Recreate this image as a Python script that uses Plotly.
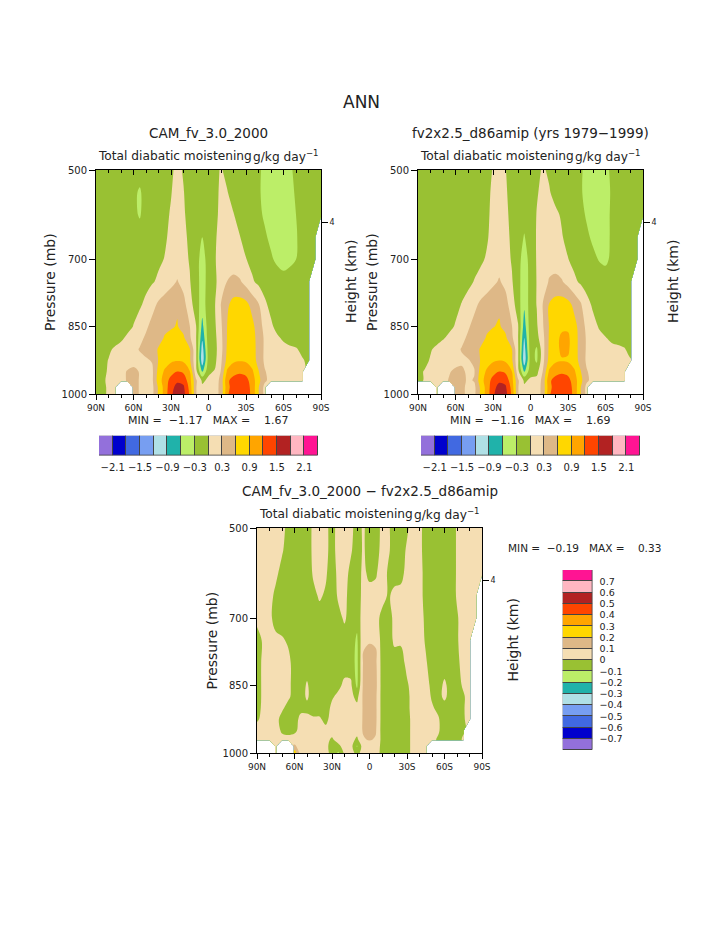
import math
import plotly.graph_objects as go

nan = float("nan")

# ---------------- data ----------------
lat = [90, 85, 80, 75, 70, 65, 60, 55, 50, 45, 40, 35, 30, 25, 20, 15, 10, 5, 0,
       -5, -10, -15, -20, -25, -30, -35, -40, -45, -50, -55, -60, -65, -70, -75, -80, -85, -90]
plev = [500, 550, 600, 650, 700, 750, 800, 850, 875, 900, 925, 950, 970, 985, 1000]

# CAM_fv_3.0_2000 : rows = pressure levels (500 -> 1000), columns = latitude (90N -> 90S)
cam_rows = [
    [-.15,-.15,-.15,-.15,-.15,-.15, -.2,-.2,-.15,-.12,-.1,-.08, -.04,.06,-.02,-.1,-.12,-.15, -.12, -.06,.02,-.06,-.12,-.15,-.18, -.22,-.28,-.33,-.38,-.4,-.38, -.33,-.26,-.2,-.15,-.12,-.1],
    [-.15,-.15,-.15,-.15,-.15,-.18, -.25,-.33,-.2,-.12,-.1,-.06, -.01,.08,.01,-.1,-.14,-.18, -.14, -.06,.04,.01,-.08,-.14,-.18, -.22,-.28,-.34,-.4,-.42,-.4, -.35,-.28,-.2,-.15,-.12,-.1],
    [-.15,-.15,-.15,-.15,-.15,-.18, -.25,-.32,-.2,-.12,-.1,-.05, .02,.1,.03,-.08,-.15,-.2, -.15, -.05,.05,.04,.01,-.08,-.16, -.22,-.27,-.32,-.38,-.42,-.42, -.37,-.3,-.22,-.16,-.12,-.1],
    [-.15,-.15,-.15,-.15,-.15,-.15, -.18,-.2,-.16,-.12,-.08,-.03, .05,.12,.06,-.05,-.18,-.3, -.18, -.03,.08,.1,.06,.01,-.1, -.18,-.24,-.28,-.33,-.4,-.42, -.38,-.32,-.22,-.16,-.12,nan],
    [-.15,-.15,-.15,-.15,-.15,-.15, -.15,-.15,-.12,-.08,-.04,.01, .08,.16,.08,-.02,-.2,-.4, -.2, -.02,.1,.16,.14,.08,.01, -.08,-.16,-.22,-.28,-.33,-.36, -.34,-.3,-.2,-.15,-.12,nan],
    [-.15,-.15,-.15,-.15,-.15,-.15, -.12,-.1,-.06,-.02,.04,.12, .22,.32,.2,.02,-.18,-.42, -.2, -.04,.1,.31,.38,.34,.2, .04,-.06,-.12,-.18,-.22,-.24, -.22,-.2,-.16,-.12,nan,nan],
    [-.15,-.15,-.15,-.15,-.15,-.12, -.08,-.03,.05,.2,.35,.45, .52,.56,.4,.12,-.15,-.45, -.15, -.02,.31,.55,.7,.72,.68, .5,.32,.05,-.08,-.12,-.15, -.15,-.15,-.15,-.12,nan,nan],
    [-.15,-.15,-.15,-.15,-.12,-.08, .01,.1,.25,.4,.5,.55, .57,.62,.5,.31,.02,-.7, -.12, -.05,.25,.61,.75,.8,.78, .68,.45,.2,.05,-.08,-.12, -.15,-.15,-.15,-.12,nan,nan],
    [-.15,-.15,-.15,-.12,-.05,.05, .12,.22,.35,.45,.52,.62, .7,.75,.65,.35,.02,-.85, -.12, -.08,.22,.62,.78,.82,.8, .7,.5,.25,.12,.04,-.04, -.1,-.12,-.12,-.1,nan,nan],
    [-.15,-.12,-.05,.04,.1,.16, .22,.32,.4,.5,.62,.7, .8,.85,.8,.62,.05,-1.05, -.15, -.1,.2,.65,.82,.86,.85, .72,.5,.25,.18,.12,.08, .05,.02,-.05,-.1,nan,nan],
    [-.12,-.08,.01,.06,.1,.14, .18,.22,.26,.32,.62,.75, .85,.88,.85,.65,.05,-1.1, -.15, -.08,.25,.7,.85,.88,.86, .75,.5,.25,.18,.14,.1, .08,.05,.02,-.04,nan,nan],
    [-.1,-.05,.02,.1,.2,.32, .38,.28,.2,.25,.7,.95, 1.1,1.2,1.15,.92,.1,-.65, -.05, .02,.32,.95,1.1,1.15,1.1, .95,.62,.32,.2,.15,.1, .08,.05,.02,nan,nan,nan],
    [-.1,-.05,.05,.12,.22,.32, .4,.28,.2,.25,.75,1.05, 1.3,1.45,1.4,1.02,.35,-.05, .05, .12,.4,1.15,1.3,1.35,1.3, 1.05,.7,.35,.2,.15,.1, .08,.05,.02,nan,nan,nan],
    [-.1,-.05,.03,.1,nan,nan, .4,.28,.2,.22,.65,1.02, 1.4,1.6,1.55,1.1,.32,.05, .1, .15,.4,1.1,1.35,1.4,1.35, 1.1,.62,.2,nan,nan,nan, nan,nan,nan,nan,nan,nan],
    [-.1,-.05,.03,.1,nan,nan, .4,.28,.2,.22,.65,1.02, 1.45,1.65,1.6,1.15,.32,.05, .1, .15,.4,1.15,1.4,1.45,1.4, 1.1,.62,.2,nan,nan,nan, nan,nan,nan,nan,nan,nan],
]

# fv2x2.5_d86amip
obs_rows = [
    [-.15,-.15,-.15,-.15,-.15,-.15, -.15,-.15,-.15,-.12,-.1,-.06, .01,.1,.01,-.1,-.12,-.15, -.12, -.06,.03,-.04,-.12,-.15,-.18, -.22,-.28,-.34,-.38,-.38,-.34, -.27,-.2,-.16,-.14,-.12,-.1],
    [-.15,-.15,-.15,-.15,-.15,-.15, -.15,-.15,-.15,-.12,-.08,-.04, .03,.12,.03,-.08,-.14,-.18, -.12, -.02,.06,.02,-.08,-.14,-.18, -.22,-.28,-.35,-.4,-.4,-.36, -.28,-.2,-.16,-.14,-.12,-.1],
    [-.15,-.15,-.15,-.15,-.15,-.15, -.15,-.15,-.15,-.12,-.08,-.03, .04,.13,.05,-.06,-.15,-.2, -.14, .01,.08,.1,.05,-.03,-.12, -.2,-.25,-.32,-.36,-.38,-.34, -.28,-.2,-.16,-.14,-.12,-.1],
    [-.15,-.15,-.15,-.15,-.15,-.15, -.15,-.15,-.13,-.1,-.06,-.02, .06,.14,.07,-.04,-.16,-.32, -.15, .02,.1,.14,.1,.02,-.08, -.16,-.22,-.27,-.33,-.37,-.34, -.28,-.2,-.16,-.14,-.12,nan],
    [-.15,-.15,-.15,-.15,-.15,-.15, -.14,-.12,-.1,-.07,-.03,.02, .1,.18,.1,-.02,-.18,-.45, -.18, .02,.12,.18,.16,.1,.01, -.08,-.15,-.2,-.26,-.31,-.33, -.27,-.2,-.16,-.14,-.12,nan],
    [-.15,-.15,-.15,-.15,-.15,-.14, -.12,-.09,-.05,.01,.06,.14, .24,.33,.22,.03,-.18,-.5, -.18, .01,.15,.33,.38,.33,.2, .06,-.04,-.1,-.15,-.2,-.22, -.18,-.15,-.14,-.12,nan,nan],
    [-.15,-.15,-.15,-.14,-.12,-.1, -.06,.01,.08,.22,.36,.45, .52,.55,.42,.14,-.15,-.55, -.15, .01,.32,.62,.72,.75,.7, .52,.34,.08,-.04,-.1,-.12, -.12,-.12,-.12,-.1,nan,nan],
    [-.15,-.15,-.14,-.12,-.1,-.05, .02,.12,.26,.4,.5,.56, .59,.63,.52,.32,.03,-.75, -.12, -.04,.28,.62,.78,.85,.85, .7,.48,.22,.08,-.02,-.08, -.1,-.1,-.1,-.08,nan,nan],
    [-.15,-.14,-.12,-.08,-.02,.05, .12,.22,.35,.45,.52,.62, .7,.75,.66,.36,.02,-.9, -.12, -.1,.22,.64,.82,.95,.96, .72,.5,.26,.14,.06,.01, -.04,-.05,-.06,-.06,nan,nan],
    [-.12,-.08,-.02,.05,.1,.16, .22,.32,.4,.5,.62,.7, .8,.85,.8,.62,.05,-1.05, -.12, -.35,.2,.66,.82,.95,.95, .72,.5,.26,.18,.12,.08, .05,.03,.01,-.04,nan,nan],
    [-.1,-.06,.02,.08,.12,.15, .2,.25,.28,.35,.62,.76, .86,.9,.86,.66,.05,-1.1, -.15, -.35,.22,.7,.85,.88,.86, .75,.5,.25,.18,.14,.1, .08,.05,.03,.01,nan,nan],
    [-.05,.01,.05,.1,.2,.28, .35,.35,.25,.28,.7,.95, 1.1,1.2,1.15,.92,.1,-.65, -.1, -.1,.32,.95,1.1,1.15,1.1, .95,.62,.32,.2,.15,.1, .08,.05,.02,nan,nan,nan],
    [-.05,.01,.06,.12,.22,.32, .38,.4,.25,.32,.75,1.05, 1.3,1.45,1.4,1.02,.35,-.05, .05, .1,.4,1.15,1.3,1.35,1.3, 1.05,.7,.35,.2,.15,.1, .08,.05,.02,nan,nan,nan],
    [nan,nan,nan,.1,nan,nan, .4,.4,.2,.22,.65,1.02, 1.4,1.6,1.55,1.1,.32,.05, .1, .15,.4,1.1,1.35,1.4,1.35, 1.1,.62,.2,nan,nan,nan, nan,nan,nan,nan,nan,nan],
    [nan,nan,nan,.1,nan,nan, .4,.4,.2,.22,.65,1.02, 1.45,1.66,1.62,1.15,.32,.05, .1, .15,.4,1.15,1.4,1.45,1.4, 1.1,.62,.2,nan,nan,nan, nan,nan,nan,nan,nan,nan],
]

# difference CAM - fv2x2.5 : one list per latitude (90N -> 90S), values at plev (500 -> 1000)
diff_cols = [
    [.04,.04,.04,.03,.02,-.03,-.04,-.04,-.04,-.03,-.01,.03,.03,nan,nan],      # 90
    [.05,.05,.05,.04,.02,.01,.02,.02,.02,.02,.02,.04,.04,nan,nan],            # 85
    [.05,.05,.04,.03,.02,.03,.04,.04,.04,.03,.03,.04,.04,nan,nan],            # 80
    [.05,.04,.02,-.02,-.03,.02,.03,.03,.03,.02,.02,.03,.03,.03,.03],          # 75
    [.03,.01,-.03,-.04,-.04,.01,.03,.03,.02,.01,-.02,-.01,.02,nan,nan],       # 70
    [-.03,-.04,-.05,-.05,-.04,-.01,.02,.02,.01,-.02,-.03,-.02,.02,nan,nan],   # 65
    [-.05,-.05,-.05,-.05,-.05,-.04,-.03,-.03,-.02,-.03,-.03,-.02,.04,.12,.26],# 60
    [-.05,-.05,-.05,-.05,-.05,-.05,-.04,-.04,-.03,-.02,.02,.03,.04,.05,.05],  # 55
    [-.05,-.05,-.05,-.05,-.05,-.05,-.04,.01,.01,-.02,.02,.03,.04,.04,.04],    # 50
    [.02,.02,.01,-.02,-.04,-.05,-.05,-.04,-.03,-.03,.01,.03,.04,.04,.04],     # 45
    [.04,.04,.03,.01,-.03,-.05,-.05,-.04,-.04,-.03,.01,.03,.03,.03,.03],      # 40
    [.02,.02,.01,-.01,-.04,-.05,-.05,-.05,-.05,-.04,-.02,.02,.02,.02,.02],    # 35
    [-.03,-.03,-.04,-.04,-.05,-.05,-.05,-.04,-.01,.02,.03,.03,-.01,-.03,-.02],# 30
    [.03,.03,.02,.01,-.02,-.05,-.05,-.02,.02,.03,.04,.04,.03,-.02,-.12],      # 25
    [.04,.04,.03,.02,.01,-.03,-.04,.02,.04,.05,.04,.04,.04,.03,.02],          # 20
    [.02,.01,-.02,-.03,-.03,-.04,-.05,.02,.03,.04,.04,.04,.04,.04,.04],       # 15
    [-.03,-.04,-.04,-.05,-.06,-.12,-.13,-.12,-.03,.03,.04,.04,-.02,-.11,-.03],# 10
    [.01,.01,.02,.03,.05,.09,.11,.12,.12,.11,.11,.11,.09,.05,.04],            # 5
    [-.03,-.03,-.02,.03,.06,.095,.13,.14,.13,.13,.12,.12,.11,.05,.04],        # 0
    [-.04,-.04,-.01,.03,.04,.09,.12,.13,.12,.12,.12,.11,.09,.04,.03],         # -5
    [.02,.03,.04,.04,-.03,-.04,-.04,-.04,-.04,-.04,-.04,-.04,-.03,-.02,-.02], # -10
    [.01,.01,-.01,-.01,-.05,-.05,-.05,-.05,-.05,-.05,-.05,-.05,-.05,-.05,-.05],# -15
    [-.03,-.03,-.03,.02,.03,.02,-.05,-.05,-.05,-.05,-.05,-.05,-.05,-.05,-.05],# -20
    [-.03,-.03,-.02,.02,.03,.01,-.03,-.05,-.05,-.05,-.05,-.05,-.05,-.05,-.05],# -25
    [-.01,.01,.02,.03,.04,.04,.02,-.01,-.02,-.02,-.03,-.03,-.03,-.03,-.03],   # -30
    [.03,.03,.03,.04,.04,.04,.04,.03,.03,.03,.03,.03,.03,.03,.03],            # -35
    [.02,.02,.03,.03,.04,.04,.04,.04,.04,.04,.04,.04,.04,.03,.03],            # -40
    [-.03,-.03,-.03,-.03,-.02,-.01,.01,.03,.04,.04,.04,.04,.03,.03,.03],      # -45
    [-.06,-.06,-.06,-.06,-.06,-.06,-.04,-.02,-.01,.01,.02,.02,.02,nan,nan],   # -50
    [-.06,-.06,-.06,-.06,-.06,-.06,-.06,-.04,-.03,-.02,.01,.01,-.01,nan,nan], # -55
    [-.06,-.06,-.06,-.06,-.06,-.06,-.05,.02,.02,-.04,-.05,-.04,-.04,nan,nan], # -60
    [-.05,-.05,-.05,-.05,-.05,-.05,-.05,-.04,-.04,-.04,-.04,-.04,-.03,nan,nan],# -65
    [.01,.01,.01,.01,-.01,-.01,-.02,-.03,-.03,-.03,-.03,-.03,-.03,nan,nan],   # -70
    [.04,.04,.04,.04,.04,.04,.03,.01,-.01,-.01,-.01,-.01,.01,nan,nan],        # -75
    [.05,.05,.05,.05,.05,.04,.04,.04,.03,.04,.03,nan,nan,nan,nan],            # -80
    [.05,.05,.05,.05,.05,nan,nan,nan,nan,nan,nan,nan,nan,nan,nan],            # -85
    [.05,.05,.05,nan,nan,nan,nan,nan,nan,nan,nan,nan,nan,nan,nan],            # -90
]

levels_main = [-2.1, -1.8, -1.5, -1.2, -0.9, -0.6, -0.3, 0.0, 0.3, 0.6, 0.9, 1.2, 1.5, 1.8, 2.1]
levels_diff = [-0.7, -0.6, -0.5, -0.4, -0.3, -0.2, -0.1, 0.0, 0.1, 0.2, 0.3, 0.4, 0.5, 0.6, 0.7]
fill_colors = ["#9370DB", "#0000CD", "#4169E1", "#779EF1", "#B0E0E6", "#20B2AA",
               "#BCEE68", "#99C133", "#F5DEB3", "#DEB887", "#FFD700", "#FFA500",
               "#FF4500", "#B22222", "#FFB6C1", "#FF1493"]

x_ticks = [90, 60, 30, 0, -30, -60, -90]
x_labels = ["90N", "60N", "30N", "0", "30S", "60S", "90S"]
p_ticks = [500, 700, 850, 1000]
height_ticks_km = [4]

season = "ANN"
case1 = "CAM_fv_3.0_2000"
case2 = "fv2x2.5_d86amip (yrs 1979\u22121999)"
case_diff = "CAM_fv_3.0_2000 \u2212 fv2x2.5_d86amip"
var_name = "Total diabatic moistening"
units = "g/kg day<sup>\u22121</sup>"
stat_cam = (-1.17, 1.67)
stat_obs = (-1.16, 1.69)
stat_diff = (-0.19, 0.33)

# ---------------- layout helpers ----------------
W, H = 723, 935
PAGE_MARGIN = 8          # default body margin of the html page
FONT = "DejaVu Sans"
TXT = "#222222"


def fx(px):
    return (px - PAGE_MARGIN) / W


def fy(py):
    return 1 - (py - PAGE_MARGIN) / H


def ax_key(kind, i):
    return f"{kind}axis" if i == 1 else f"{kind}axis{i}"


def ax_ref(kind, i):
    return kind if i == 1 else f"{kind}{i}"


def fmt(v):
    s = f"{v:g}"
    return s.replace("-", "\u2212")


def km_to_hpa(h_km):
    return 1013.25 * (1 - 2.25577e-5 * h_km * 1000) ** 5.25588


def stat_text(mn, mx):
    sp = "\u00a0"
    return f"MIN{sp}={sp}{sp}{fmt(mn)}{sp}{sp}{sp}MAX{sp}={sp}{sp}{sp}{sp}{fmt(mx)}"


fill_scale = [[k / len(levels_main), c] for k, c in enumerate(fill_colors)]

# panel boxes in page pixels: (left, right, top, bottom)
panels = [
    dict(box=(96, 321, 170, 394), z=cam_rows, levels=levels_main, title=case1),
    dict(box=(418, 643, 170, 394), z=obs_rows, levels=levels_main, title=case2),
    dict(box=(257, 482, 528, 753), z=[list(r) for r in zip(*diff_cols)], levels=levels_diff, title=case_diff),
]

fig = go.Figure()
layout = dict(template="none", width=W, height=H,
              margin=dict(l=0, r=0, t=0, b=0, pad=0, autoexpand=False),
              paper_bgcolor="white", plot_bgcolor="white", showlegend=False,
              font=dict(family=FONT, color=TXT))
annotations = []


def text(xp, yp, s, size, xanchor="center", angle=0):
    annotations.append(dict(x=fx(xp), y=fy(yp), xref="paper", yref="paper", text=s,
                            showarrow=False, xanchor=xanchor, yanchor="middle",
                            textangle=angle, font=dict(size=size, family=FONT, color=TXT)))


for k, P in enumerate(panels, start=1):
    l, r, t, b = P["box"]
    lev = P["levels"]
    step = round(lev[1] - lev[0], 6)
    fig.add_trace(go.Contour(
        x=lat, y=plev, z=P["z"], xaxis=ax_ref("x", k), yaxis=ax_ref("y", k),
        autocontour=False,
        contours=dict(start=lev[0], end=lev[-1], size=step, coloring="fill", showlines=False),
        colorscale=fill_scale, showscale=False, line=dict(width=0),
        connectgaps=False, hoverinfo="skip"))
    # helper (empty) traces so overlay axes get drawn
    fig.add_trace(go.Scatter(x=[None], y=[None], xaxis=ax_ref("x", k + 3), yaxis=ax_ref("y", k),
                             mode="markers", hoverinfo="skip"))
    fig.add_trace(go.Scatter(x=[None], y=[None], xaxis=ax_ref("x", k), yaxis=ax_ref("y", k + 3),
                             mode="markers", hoverinfo="skip"))

    layout[ax_key("x", k)] = dict(
        domain=[fx(l), fx(r)], anchor=ax_ref("y", k), range=[90, -90], automargin=False,
        tickmode="array", tickvals=x_ticks, ticktext=x_labels,
        ticks="outside", ticklen=5, tickwidth=1, tickcolor="black",
        tickfont=dict(size=9, family=FONT, color=TXT),
        minor=dict(tickmode="linear", tick0=0, dtick=10, ticks="outside", ticklen=3, tickcolor="black"),
        showline=True, linecolor="black", linewidth=1, mirror=True,
        showgrid=False, zeroline=False)
    layout[ax_key("x", k + 3)] = dict(
        overlaying=ax_ref("x", k), anchor=ax_ref("y", k), side="top", range=[90, -90], automargin=False,
        tickmode="array", tickvals=x_ticks, showticklabels=False,
        ticks="inside", ticklen=5, tickcolor="black",
        minor=dict(tickmode="linear", tick0=0, dtick=10, ticks="inside", ticklen=3, tickcolor="black"),
        showline=False, showgrid=False, zeroline=False)
    layout[ax_key("y", k)] = dict(
        domain=[fy(b), fy(t)], anchor=ax_ref("x", k), range=[1000, 500], automargin=False,
        tickmode="array", tickvals=p_ticks, ticktext=[str(p) for p in p_ticks],
        ticks="outside", ticklen=6, tickcolor="black",
        tickfont=dict(size=10, family=FONT, color=TXT),
        showline=True, linecolor="black", linewidth=1, mirror=True,
        showgrid=False, zeroline=False)
    layout[ax_key("y", k + 3)] = dict(
        overlaying=ax_ref("y", k), anchor=ax_ref("x", k), side="right", range=[1000, 500], automargin=False,
        tickmode="array", tickvals=[km_to_hpa(h) for h in height_ticks_km],
        ticktext=[str(h) for h in height_ticks_km],
        ticks="outside", ticklen=6, tickcolor="black",
        tickfont=dict(size=8, family=FONT, color=TXT),
        showline=False, showgrid=False, zeroline=False)

    cx = (l + r) / 2
    cy = (t + b) / 2
    text(cx, t - 37, P["title"], 13.5)
    text(l, t - 14, var_name, 12.2, xanchor="left")
    text(r, t - 14, units, 12.2, xanchor="right")
    text(l - 46, cy, "Pressure (mb)", 14, angle=-90)
    text(r + 30, cy, "Height (km)", 14, angle=-90)

text(361.5, 102, season, 17)
text(208.5, 420, stat_text(*stat_cam), 11)
text(530.5, 420, stat_text(*stat_obs), 11)
text(506, 548, stat_text(*stat_diff), 10.5, xanchor="left")

# ---------------- colour bars ----------------
ncol = len(fill_colors)
hbars = [(7, (99, 318, 435.7, 455.7)), (8, (421, 640, 435.7, 455.7))]
for idx, (l, r, t, b) in hbars:
    fig.add_trace(go.Bar(x=[i + 0.5 for i in range(ncol)], y=[1] * ncol, width=1,
                         marker=dict(color=fill_colors, line=dict(color="#444444", width=1)),
                         xaxis=ax_ref("x", idx), yaxis=ax_ref("y", idx), hoverinfo="skip"))
    layout[ax_key("x", idx)] = dict(
        domain=[fx(l), fx(r)], anchor=ax_ref("y", idx), range=[0, ncol], automargin=False,
        tickmode="array", tickvals=[i + 1 for i in range(0, len(levels_main), 2)],
        ticktext=[fmt(levels_main[i]) for i in range(0, len(levels_main), 2)],
        ticks="outside", ticklen=2, tickcolor="rgba(0,0,0,0)",
        tickfont=dict(size=10, family=FONT, color=TXT),
        showline=False, showgrid=False, zeroline=False)
    layout[ax_key("y", idx)] = dict(domain=[fy(b), fy(t)], anchor=ax_ref("x", idx),
                                    range=[0, 1], visible=False, automargin=False)

l, r, t, b = 562.7, 592.7, 570, 750
fig.add_trace(go.Bar(y=[i + 0.5 for i in range(ncol)], x=[1] * ncol, width=1, orientation="h",
                     marker=dict(color=fill_colors, line=dict(color="#444444", width=1)),
                     xaxis="x9", yaxis="y9", hoverinfo="skip"))
layout["xaxis9"] = dict(domain=[fx(l), fx(r)], anchor="y9", range=[0, 1], visible=False, automargin=False)
layout["yaxis9"] = dict(
    domain=[fy(b), fy(t)], anchor="x9", side="right", range=[0, ncol], automargin=False,
    tickmode="array", tickvals=[i + 1 for i in range(len(levels_diff))],
    ticktext=[fmt(v) for v in levels_diff],
    ticks="outside", ticklen=4, tickcolor="rgba(0,0,0,0)",
    tickfont=dict(size=9.5, family=FONT, color=TXT),
    showline=False, showgrid=False, zeroline=False)

layout["annotations"] = annotations
layout["bargap"] = 0
fig.update_layout(**layout)
fig.write_html("out.html")
